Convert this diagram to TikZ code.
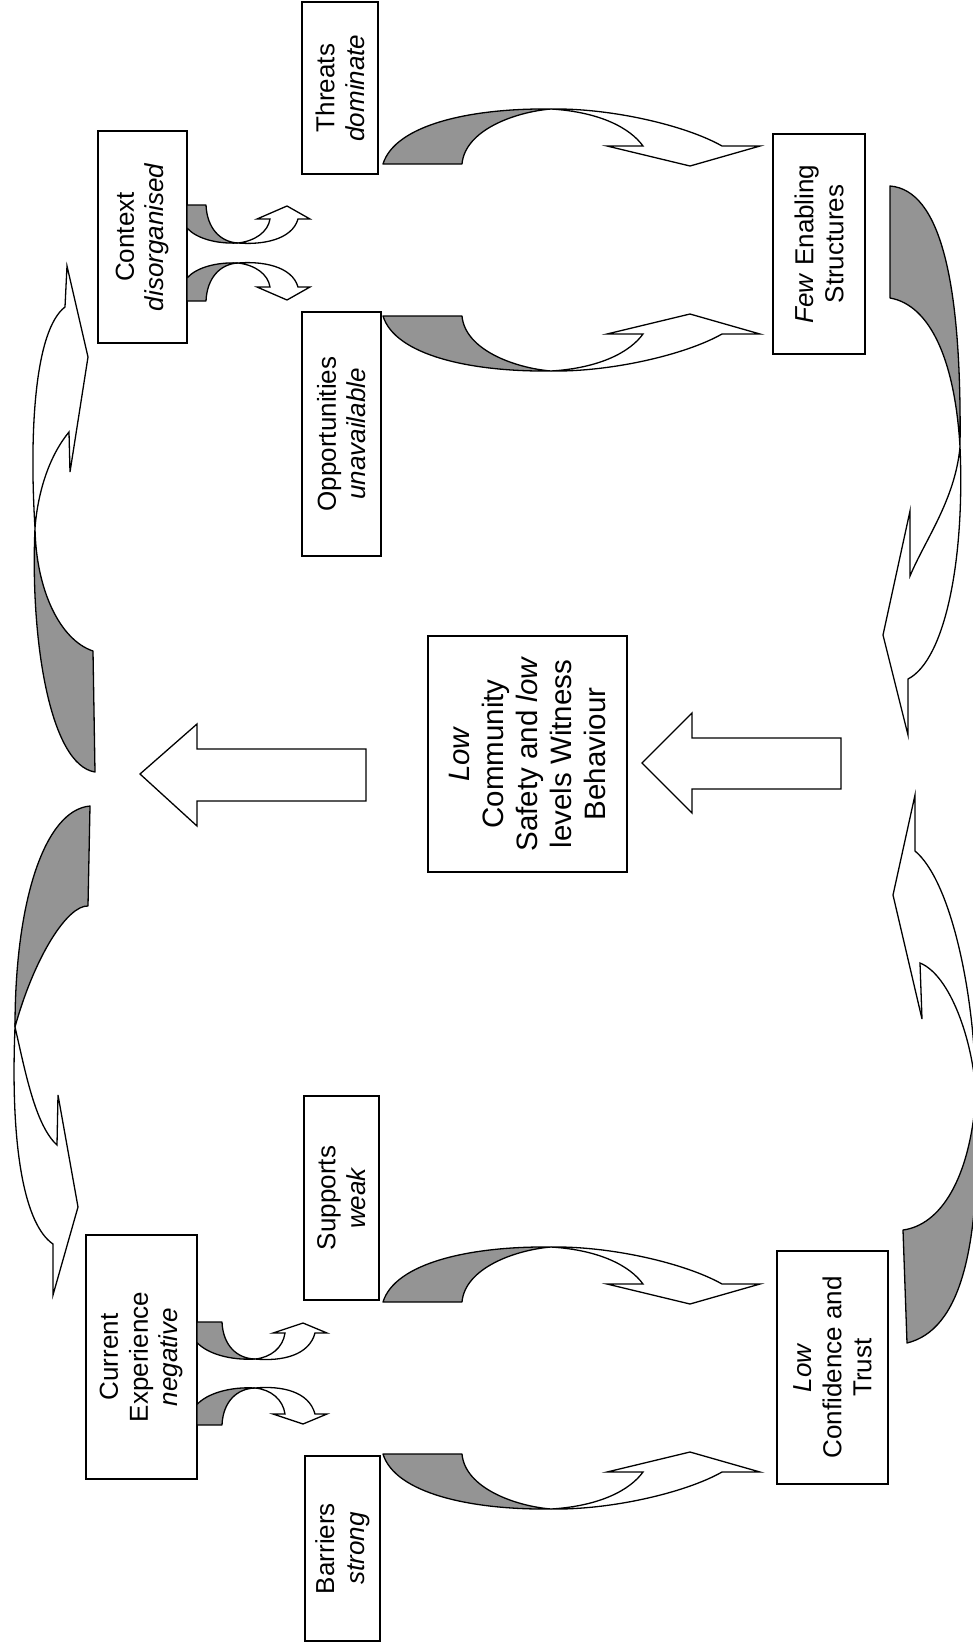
\documentclass[tikz,border=0pt]{standalone}
\usepackage{fontspec}
\setmainfont{Liberation Sans}
\begin{document}
\begin{tikzpicture}[x=1pt,y=-1pt,
  box/.style={draw=black, line width=1.6pt, fill=white, rotate=90, align=center,
    inner sep=0pt, font=\fontsize{26}{30}\selectfont},
  back/.style={draw=black, line width=1.3pt, fill=black!42, line join=round},
  front/.style={draw=black, line width=1.3pt, fill=white, line join=miter},
]
\path[use as bounding box] (0,0) rectangle (973,1644);
\clip (0,0) rectangle (973,1644);

% twisted loop arrow, drawn above its axis; mirrored copies go below
\newcommand{\drawtwistloop}{%
  \path[back] (383,-76) .. controls (395,-115) and (470,-132) .. (551,-131)
     .. controls (515,-128) and (465,-110) .. (462,-76) -- cycle;
  \path[front] (551,-131) .. controls (610,-132) and (685,-115) .. (722,-94)
     -- (760,-94) -- (690,-74) -- (607,-94) -- (643,-94)
     .. controls (630,-112) and (600,-128) .. (551,-131) -- cycle;
}
% small curled arrows leaving the Context box
\newcommand{\drawctxcurl}{%
  \path[back] (0,-48) -- (19,-48) .. controls (20,-25) and (33,-11) .. (51,-10)
     .. controls (28,-9) and (9,-15) .. (0,-25) -- cycle;
  \path[front] (51,-10) .. controls (75,-8) and (105,-13) .. (111,-34)
     -- (123,-34) -- (100,-47) -- (70,-34) -- (83,-34)
     .. controls (81,-21) and (68,-12) .. (51,-10) -- cycle;
}
% small curled arrows leaving the Current Experience box
\newcommand{\drawcecurl}{%
  \path[back] (0,-51.5) -- (25,-51.5) .. controls (26,-28) and (40,-15) .. (58,-14.5)
     .. controls (33,-13) and (10,-20) .. (0,-31) -- cycle;
  \path[front] (58,-14.5) .. controls (85,-12) and (112,-18) .. (118,-40.5)
     -- (130,-40.5) -- (106,-50.5) -- (76,-40.5) -- (88,-40.5)
     .. controls (86,-26) and (74,-16) .. (58,-14.5) -- cycle;
}

% boxes
\node[box, minimum width=172pt, minimum height=76pt] (threats) at (340,88) {Threats\\\textit{dominate}};
\node[box, minimum width=212pt, minimum height=89pt] (context) at (142.5,237) {Context\\\textit{disorganised}};
\node[box, minimum width=244pt, minimum height=79pt] (opps) at (341.5,434) {Opportunities\\\textit{unavailable}};
\node[box, minimum width=220pt, minimum height=92pt] (few) at (819,244) {\textit{Few} Enabling\\Structures};
\node[box, minimum width=236pt, minimum height=199pt, font=\fontsize{29.5}{34}\selectfont] (safety) at (527.5,754)
  {\textit{Low}\\Community\\Safety and \textit{low}\\levels Witness\\Behaviour};
\node[box, minimum width=244pt, minimum height=111pt] (current) at (141.5,1357) {Current\\Experience\\\textit{negative}};
\node[box, minimum width=204pt, minimum height=75pt] (supports) at (341.5,1198) {Supports\\\textit{weak}};
\node[box, minimum width=185pt, minimum height=75pt] (barriers) at (342.5,1548.5) {Barriers\\\textit{strong}};
\node[box, minimum width=233pt, minimum height=111pt] (trust) at (832.5,1367.5) {\textit{Low}\\Confidence and\\Trust};

% small curls
\begin{scope}[shift={(187,253)}] \drawctxcurl \end{scope}
\begin{scope}[shift={(187,253)}, yscale=-1] \drawctxcurl \end{scope}
\begin{scope}[shift={(197,1373.5)}] \drawcecurl \end{scope}
\begin{scope}[shift={(197,1373.5)}, yscale=-1] \drawcecurl \end{scope}

% loops between the side boxes and the right-hand boxes
\begin{scope}[shift={(0,240)}] \drawtwistloop \end{scope}
\begin{scope}[shift={(0,240)}, yscale=-1] \drawtwistloop \end{scope}
\begin{scope}[shift={(0,1378)}] \drawtwistloop \end{scope}
\begin{scope}[shift={(0,1378)}, yscale=-1] \drawtwistloop \end{scope}

% large outer arrows, left side
\path[back] (93,651) .. controls (60,640) and (36,590) .. (35,528)
   .. controls (30,640) and (50,765) .. (95,772) -- cycle;
\path[front] (35,528) .. controls (29,430) and (35,330) .. (65,307) -- (67,266) -- (88,357)
   -- (70,472) -- (69,432) .. controls (50,455) and (38,490) .. (35,528) -- cycle;
\path[back] (90,806) .. controls (45,810) and (15,900) .. (15,1027)
   .. controls (35,955) and (68,905) .. (88,906) -- cycle;
\path[front] (15,1027) .. controls (25,1070) and (35,1125) .. (57,1145) -- (58,1095) -- (78,1207)
   -- (53,1295) -- (53,1244) .. controls (25,1225) and (10,1150) .. (15,1027) -- cycle;

% large outer arrows, right side
\path[back] (890,186) .. controls (940,190) and (962,280) .. (960,447)
   .. controls (955,360) and (930,305) .. (890,298) -- cycle;
\path[front] (960,447) .. controls (955,500) and (925,540) .. (910,576) -- (910,511) -- (883,635)
   -- (908,735) -- (908,679) .. controls (945,660) and (965,560) .. (960,447) -- cycle;
\path[back] (976,1095) .. controls (970,1180) and (940,1225) .. (903,1230) -- (907,1343)
   .. controls (960,1330) and (982,1250) .. (976,1095) -- cycle;
\path[front] (976,1095) .. controls (973,1040) and (950,975) .. (920,963) -- (922,1019) -- (893,895)
   -- (915,795) -- (915,851) .. controls (950,880) and (975,990) .. (976,1095) -- cycle;

% block arrows
\path[front] (366,749) -- (197,749) -- (197,724) -- (140,774) -- (197,826) -- (197,801) -- (366,801) -- cycle;
\path[front] (841,738) -- (692,738) -- (692,713) -- (642,763) -- (692,813) -- (692,789) -- (841,789) -- cycle;
\end{tikzpicture}
\end{document}
